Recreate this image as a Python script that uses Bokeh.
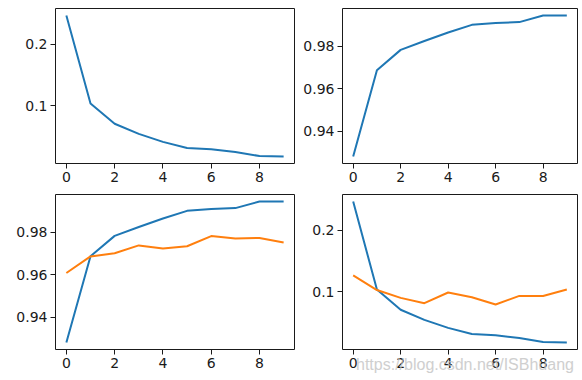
from bokeh.plotting import figure
from bokeh.layouts import gridplot, column
from bokeh.models import Range1d, FixedTicker, Div
from bokeh.embed import file_html
from bokeh.resources import INLINE

epochs = list(range(10))
train_loss = [0.2470, 0.1038, 0.0710, 0.0546, 0.0415, 0.0317, 0.0295, 0.0250, 0.0185, 0.0178]
val_loss = [0.1270, 0.1030, 0.0903, 0.0817, 0.0990, 0.0914, 0.0795, 0.0935, 0.0935, 0.1040]
train_acc = [0.9280, 0.9687, 0.9783, 0.9825, 0.9865, 0.9901, 0.9910, 0.9914, 0.9945, 0.9945]
val_acc = [0.9608, 0.9686, 0.9701, 0.9738, 0.9723, 0.9734, 0.9782, 0.9771, 0.9773, 0.9752]

x_ticks = [0, 2, 4, 6, 8]
loss_ticks = [0.1, 0.2]
loss_tick_labels = ["0.1", "0.2"]
acc_ticks = [0.94, 0.96, 0.98]
acc_tick_labels = ["0.94", "0.96", "0.98"]
watermark = "https://blog.csdn.net/ISBhuang"

BLUE = "#1f77b4"
ORANGE = "#ff7f0e"
FONT = "DejaVu Sans"


def margins(*series):
    vals = [v for s in series for v in s]
    lo, hi = min(vals), max(vals)
    m = (hi - lo) * 0.05
    return lo - m, hi + m


def make(width, height, lb, rb, tb, bb, series, ticks, labels):
    xlo, xhi = margins(epochs)
    ylo, yhi = margins(*[s for s, _ in series])
    p = figure(width=width, height=height, output_backend="svg", toolbar_location=None,
               x_range=Range1d(xlo, xhi), y_range=Range1d(ylo, yhi),
               min_border_left=lb, min_border_right=rb, min_border_top=tb, min_border_bottom=bb,
               tools="")
    for s, c in series:
        p.line(epochs, s, line_color=c, line_width=2)
    p.xgrid.visible = False
    p.ygrid.visible = False
    p.outline_line_color = "#1a1a1a"
    p.outline_line_width = 1
    p.outline_line_alpha = 1
    p.background_fill_color = "white"
    p.border_fill_color = "white"
    p.xaxis.ticker = FixedTicker(ticks=x_ticks)
    p.yaxis.ticker = FixedTicker(ticks=ticks)
    p.yaxis.major_label_overrides = {t: l for t, l in zip(ticks, labels)}
    for ax in (p.xaxis[0], p.yaxis[0]):
        ax.axis_line_color = None
        ax.major_tick_in = 0
        ax.major_tick_out = 5
        ax.major_tick_line_color = "#1a1a1a"
        ax.minor_tick_line_color = None
        ax.major_label_text_font = FONT
        ax.major_label_text_font_size = "14px"
        ax.major_label_text_color = "#1a1a1a"
        ax.major_label_standoff = 3
    return p


p1 = make(300, 193, 55, 6, 8, 30, [(train_loss, BLUE)], loss_ticks, loss_tick_labels)
p2 = make(280, 193, 41, 3, 8, 30, [(train_acc, BLUE)], acc_ticks, acc_tick_labels)
p3 = make(300, 185, 55, 6, 1, 29, [(train_acc, BLUE), (val_acc, ORANGE)], acc_ticks, acc_tick_labels)
p4 = make(280, 185, 41, 3, 1, 29, [(train_loss, BLUE), (val_loss, ORANGE)], loss_ticks, loss_tick_labels)

grid = gridplot([[p1, p2], [p3, p4]], toolbar_location=None)

# faint watermark overlapping the last panel's tick labels
mark = Div(text=watermark, width=224, height=20, margin=(-23, 0, 0, 356),
           styles={"color": "#c4c4c4", "opacity": "0.8", "font-family": "Liberation Sans",
                   "font-size": "16px", "line-height": "20px", "white-space": "nowrap",
                   "pointer-events": "none"})

page = column(grid, mark)

open("out.html", "w").write(file_html(page, INLINE))
